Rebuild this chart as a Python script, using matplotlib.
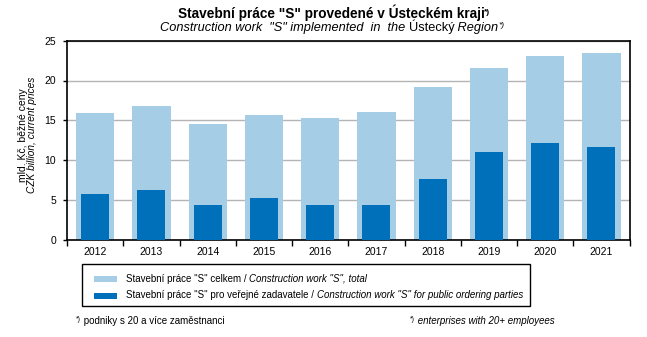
import matplotlib.pyplot as plt
import numpy as np
from matplotlib.patches import Rectangle

plt.rcParams["font.family"] = ["Liberation Sans", "DejaVu Sans"]

years = ["2012", "2013", "2014", "2015", "2016", "2017", "2018", "2019", "2020", "2021"]
total = [15.9, 16.8, 14.5, 15.7, 15.3, 16.0, 19.2, 21.6, 23.1, 23.4]
public = [5.7, 6.3, 4.3, 5.2, 4.3, 4.3, 7.6, 11.0, 12.1, 11.7]

LIGHT = "#a6cde6"
DARK = "#0070bb"
W, H = 647, 337

fig = plt.figure(figsize=(W / 100, H / 100), dpi=100)
renderer = fig.canvas.get_renderer()


def run_text(x0, y0, parts, ha="left"):
    """Draw text pieces of mixed style one after another (pixel coords, y from top)."""
    arts = []
    x = x0
    for s, kw in parts:
        size = kw.get("size", 7)
        dy = kw.get("dy", 0)
        t = fig.text(x / W, 1 - (y0 - dy) / H, s, ha="left", va="baseline",
                     fontsize=size, style=kw.get("style", "normal"),
                     fontweight=kw.get("weight", "normal"))
        x += t.get_window_extent(renderer).width
        arts.append(t)
    if ha == "center":
        shift = (x - x0) / 2
        for t in arts:
            px, py = t.get_position()
            t.set_position((px - shift / W, py))
    return arts


ax = fig.add_axes([67 / W, 1 - 239.7 / H, 562.5 / W, 199 / H])

x = np.arange(len(years))
ax.bar(x, total, width=0.68, color=LIGHT, zorder=2)
ax.bar(x, public, width=0.50, color=DARK, zorder=3)

ax.set_xlim(-0.5, len(years) - 0.5)
ax.set_ylim(0, 25)
ax.set_yticks(range(0, 26, 5))
ax.yaxis.grid(True, color="#b4b4b4", lw=1, zorder=0)
ax.set_axisbelow(True)

# year labels in the middle, ticks on category boundaries
ax.set_xticks(x)
ax.set_xticklabels(years, fontsize=7.5)
ax.tick_params(axis="x", which="major", length=0, pad=5)
ax.set_xticks(np.arange(-0.5, len(years)), minor=True)
ax.tick_params(axis="x", which="minor", length=4, width=1, direction="out")
ax.tick_params(axis="y", length=3, width=1, labelsize=7.5, pad=5)

for s in ax.spines.values():
    s.set_color("black")
    s.set_linewidth(1.2)

fig.text(23 / W, 1 - 135 / H, "mld. Kč, běžné ceny", rotation=90,
         ha="center", va="center", fontsize=7.5)
fig.text(32 / W, 1 - 135 / H, "CZK billion, current prices", rotation=90,
         ha="center", va="center", fontsize=7.3, style="italic")

# titles
run_text(334, 18, [('Stavební práce "S" provedené v Ústeckém kraji', {"size": 9.8, "weight": "bold"}),
                   ("*)", {"size": 6, "weight": "bold", "dy": 4})], ha="center")
run_text(332, 31, [('Construction work  "S" implemented  in  the ', {"size": 9.2, "style": "italic"}),
                   ("Ústecký", {"size": 9.2}),
                   (" Region", {"size": 9.2, "style": "italic"}),
                   ("*)", {"size": 6, "style": "italic", "dy": 4})], ha="center")

# legend box
fig.add_artist(Rectangle((82 / W, 1 - 306 / H), 448 / W, 42 / H, transform=fig.transFigure,
                         facecolor="none", edgecolor="black", lw=1.0))
fig.add_artist(Rectangle((94 / W, 1 - 282 / H), 23 / W, 6 / H, transform=fig.transFigure,
                         facecolor=LIGHT, edgecolor="none"))
fig.add_artist(Rectangle((94 / W, 1 - 299 / H), 23 / W, 6 / H, transform=fig.transFigure,
                         facecolor=DARK, edgecolor="none"))
run_text(126, 281.5, [('Stavební práce "S" celkem / ', {}),
                      ('Construction work "S", total', {"style": "italic"})])
run_text(126, 298.5, [('Stavební práce "S" pro veřejné zadavatele / ', {}),
                      ('Construction work "S" for public ordering parties', {"style": "italic"})])

# footnotes
run_text(76, 324, [("*)", {"size": 5, "dy": 3}), (" podniky s 20 a více zaměstnanci", {})])
run_text(410, 324, [("*)", {"size": 5, "dy": 3}),
                    (" enterprises with 20+ employees", {"style": "italic"})])

fig.savefig("out.png", dpi=100)
